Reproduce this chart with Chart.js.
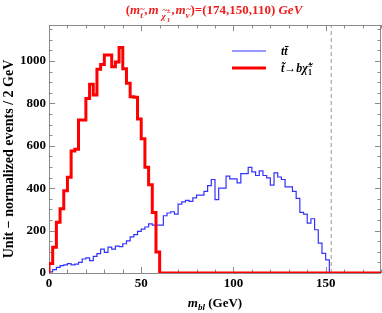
<!DOCTYPE html>
<html>
<head>
<meta charset="utf-8">
<script src="https://cdn.jsdelivr.net/npm/chart.js@4"></script>
<style>
  body { margin: 0; background: #fff; }
  #wrap { width: 382px; height: 313px; }
</style>
</head>
<body>
<div id="wrap"><canvas id="hist"></canvas></div>
<script>
// histogram bins, 2 GeV wide, starting at 0
const binWidth = 2;
const stopCounts = [45,122,239,303,388,452,576,584,722,722,823,890,840,961,984,1028,1028,973,995,1064,
  964,895,832,829,727,633,499,416,286,99];
const ttbarCounts = [5,16,27,35,38,44,38,42,50,66,71,58,78,91,113,97,122,113,127,124,138,152,170,181,196,207,217,
  232,226,226,226,270,283,289,278,325,336,343,338,354,367,367,385,412,441,346,400,400,457,444,444,425,
  469,469,498,477,460,482,460,449,415,472,453,441,406,406,385,352,286,278,235,256,204,141,93,62];
const xTicks = [0, 50, 100, 150];
const yTicks = [0, 200, 400, 600, 800, 1000];
const xRange = [0, 180];
const yRange = [0, 1170];
const endpoint = 153; // dashed line

const serif = '"Liberation Serif", "DejaVu Serif", serif';

function histPoints(counts, xEnd) {
  const pts = [{x: 0, y: 0}];
  counts.forEach((c, i) => pts.push({x: i * binWidth, y: c}));
  pts.push({x: counts.length * binWidth, y: 0});
  if (xEnd) pts.push({x: xEnd, y: 0});
  return pts;
}

// draw a row of text pieces (with optional accent on top), returns width
function runs(ctx, parts, x, y, draw) {
  let cx = x;
  parts.forEach(p => {
    ctx.font = p.f;
    const w = ctx.measureText(p.t).width;
    if (draw) {
      ctx.fillText(p.t, cx, y + (p.dy || 0));
      if (p.acc) {
        const aw = ctx.measureText(p.acc).width;
        ctx.fillText(p.acc, cx + w / 2 - aw / 2 + 1, y + (p.dy || 0) - p.up);
      }
    }
    if (!p.stack) cx += w + (p.gap || 0);
  });
  return cx - x;
}

const B = s => 'bold ' + s + 'px ' + serif;
const BI = s => 'italic bold ' + s + 'px ' + serif;

const framePlugin = {
  id: 'frame',
  beforeDatasetsDraw(chart) {
    const {ctx, chartArea: a, scales: {x, y}} = chart;
    ctx.save();
    ctx.strokeStyle = '#8a8a8a';
    ctx.lineWidth = 1;
    ctx.strokeRect(a.left + 0.5, a.top + 0.5, a.right - a.left - 1, a.bottom - a.top);
    ctx.beginPath();
    for (let v = xRange[0]; v <= xRange[1]; v += 10) {
      const px = Math.round(x.getPixelForValue(v)) + 0.5;
      const len = v % 50 === 0 ? 6 : 3.5;
      ctx.moveTo(px, a.bottom); ctx.lineTo(px, a.bottom - len);
      ctx.moveTo(px, a.top); ctx.lineTo(px, a.top + len);
    }
    for (let v = yRange[0]; v <= yRange[1]; v += 50) {
      const py = Math.round(y.getPixelForValue(v)) + 0.5;
      const len = v % 200 === 0 ? 6 : 3.5;
      ctx.moveTo(a.left, py); ctx.lineTo(a.left + len, py);
      ctx.moveTo(a.right, py); ctx.lineTo(a.right - len, py);
    }
    ctx.stroke();
    ctx.restore();
  },
  afterDraw(chart) {
    const {ctx, chartArea: a} = chart;
    ctx.save();
    ctx.textBaseline = 'alphabetic';

    // title
    ctx.fillStyle = 'rgb(240,30,30)';
    const title = [
      {t: '(', f: B(13)}, {t: 'm', f: BI(13)},
      {t: 't', f: BI(9), dy: 4, acc: '~', up: 6, gap: 1.5},
      {t: ',', f: B(13), gap: 1}, {t: 'm', f: BI(13), gap: 3},
      {t: '\u03C7', f: BI(9), dy: 5, acc: '~', up: 6, gap: 1},
      {t: '\u00B1', f: B(7), dy: -1, stack: true}, {t: '1', f: BI(7), dy: 8, gap: 1},
      {t: ',', f: B(13), gap: 1}, {t: 'm', f: BI(13)},
      {t: '\u03BD', f: BI(9), dy: 4, acc: '~', up: 6, gap: 1},
      {t: ')=(174,150,110) ', f: B(13)}, {t: 'GeV', f: BI(13)}
    ];
    const tw = runs(ctx, title, 0, 0, false);
    runs(ctx, title, (a.left + a.right) / 2 - tw / 2 - 1, 14, true);

    // x axis title
    ctx.fillStyle = '#000';
    const xt = [{t: 'm', f: BI(13)}, {t: 'bl', f: BI(9), dy: 3}, {t: ' (GeV)', f: B(13)}];
    const xw = runs(ctx, xt, 0, 0, false);
    runs(ctx, xt, (a.left + a.right) / 2 - xw / 2, 307, true);

    // y axis title
    ctx.save();
    ctx.translate(9, 159);
    ctx.rotate(-Math.PI / 2);
    ctx.font = B(14);
    ctx.textAlign = 'center';
    ctx.textBaseline = 'middle';
    ctx.fillText('Unit \u2212 normalized events / 2 GeV', 0, 0);
    ctx.restore();

    // legend
    const ds = chart.data.datasets;
    const legendRows = [
      {i: 1, y: 51, text: [{t: 't', f: BI(12)}, {t: 't\u0304', f: BI(12)}]},
      {i: 0, y: 68, text: [{t: 't\u0303', f: BI(12)}, {t: '\u2192', f: B(12)}, {t: 'b', f: BI(12)},
        {t: '\u03C7\u0303', f: BI(12)}, {t: '\u00B1', f: B(8), dy: -5, stack: true}, {t: '1', f: B(8), dy: 3}]}
    ];
    legendRows.forEach(r => {
      ctx.strokeStyle = ds[r.i].borderColor;
      ctx.lineWidth = ds[r.i].borderWidth;
      ctx.beginPath();
      ctx.moveTo(232, r.y); ctx.lineTo(266, r.y);
      ctx.stroke();
      ctx.fillStyle = '#000';
      runs(ctx, r.text, 281, r.y + 4, true);
    });
    ctx.restore();
  }
};

new Chart(document.getElementById('hist'), {
  type: 'line',
  data: {
    datasets: [
      {
        label: 'stop',
        data: histPoints(stopCounts, xRange[1]),
        borderColor: 'rgb(255,0,0)',
        borderWidth: 3,
        stepped: 'before',
        pointRadius: 0,
        order: 0
      },
      {
        label: 'ttbar',
        data: histPoints(ttbarCounts),
        borderColor: 'rgb(50,50,255)',
        borderWidth: 1.2,
        stepped: 'before',
        pointRadius: 0,
        order: 1
      },
      {
        label: 'endpoint',
        data: [{x: endpoint, y: yRange[0]}, {x: endpoint, y: yRange[1]}],
        borderColor: '#999',
        borderWidth: 1,
        borderDash: [4, 3],
        pointRadius: 0,
        order: 2
      }
    ]
  },
  options: {
    responsive: true,
    maintainAspectRatio: false,
    animation: false,
    layout: { padding: { top: 25, right: 1, left: 0, bottom: 0 } },
    plugins: { legend: { display: false }, tooltip: { enabled: false } },
    scales: {
      x: {
        type: 'linear',
        min: xRange[0], max: xRange[1],
        afterFit: s => { s.height = 40; },
        afterBuildTicks: s => { s.ticks = xTicks.map(v => ({value: v})); },
        ticks: { font: { family: serif, size: 13, weight: 'bold' }, color: '#000', padding: 3, maxRotation: 0,
          callback: v => String(v) },
        grid: { display: false, drawTicks: false },
        border: { display: false }
      },
      y: {
        min: yRange[0], max: yRange[1],
        afterFit: s => { s.width = 49; },
        afterBuildTicks: s => { s.ticks = yTicks.map(v => ({value: v})); },
        ticks: { font: { family: serif, size: 13, weight: 'bold' }, color: '#000', padding: 3,
          callback: v => String(v) },
        grid: { display: false, drawTicks: false },
        border: { display: false }
      }
    }
  },
  plugins: [framePlugin]
});
</script>
</body>
</html>
